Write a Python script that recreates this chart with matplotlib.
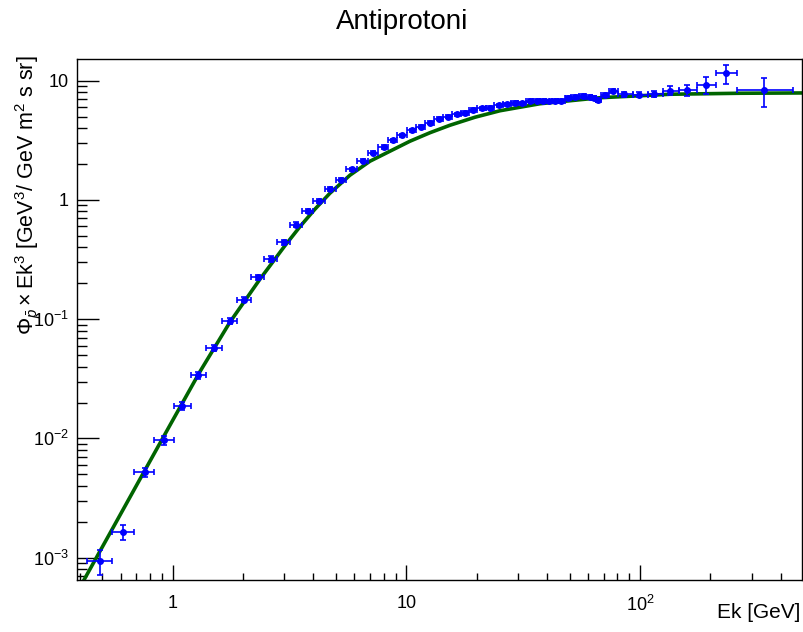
import numpy as np
import matplotlib
matplotlib.use("Agg")
import matplotlib.pyplot as plt

# antiproton flux x Ek^3 [GeV^3 / (GeV m^2 s sr)] per kinetic energy bin
ek = [0.489, 0.615, 0.759, 0.921, 1.096, 1.287, 1.506, 1.754, 2.018, 2.324,
      2.626, 2.994, 3.360, 3.79, 4.24, 4.73, 5.27, 5.85, 6.50, 7.22,
      8.00, 8.76, 9.58, 10.57, 11.58, 12.62, 13.79, 15.02, 16.41, 17.81,
      19.33, 21.0, 22.8, 24.8, 27.0, 29.1, 31.4, 33.7, 36.1, 38.4,
      40.8, 43.2, 45.9, 49.3, 52.7, 56.8, 61.0, 63.5, 66.2, 70.8,
      76.3, 85.6, 98.9, 114.7, 134.3, 159.2, 191.4, 233.2, 340.0]
flux = [9.4e-4, 1.64e-3, 5.19e-3, 9.68e-3, 0.01876, 0.0337, 0.0571, 0.0962, 0.146, 0.224,
        0.320, 0.442, 0.620, 0.804, 0.975, 1.229, 1.48, 1.80, 2.14, 2.48,
        2.78, 3.15, 3.49, 3.84, 4.12, 4.45, 4.81, 5.00, 5.23, 5.36,
        5.68, 5.87, 5.91, 6.22, 6.34, 6.50, 6.47, 6.81, 6.81, 6.79,
        6.72, 6.79, 6.79, 7.16, 7.26, 7.45, 7.30, 7.16, 6.94, 7.54,
        8.15, 7.69, 7.65, 7.80, 8.20, 8.36, 9.27, 11.53, 8.36]
# relative errors (down, up)
err_lo = [0.24, 0.15, 0.09, 0.085, 0.08, 0.065, 0.06, 0.06, 0.055, 0.05,
          0.05, 0.045, 0.045, 0.04, 0.04, 0.035, 0.035, 0.035, 0.03, 0.03,
          0.03, 0.03, 0.03, 0.03, 0.03, 0.03, 0.03, 0.03, 0.03, 0.03,
          0.03, 0.03, 0.03, 0.03, 0.03, 0.03, 0.03, 0.03, 0.03, 0.03,
          0.03, 0.03, 0.03, 0.035, 0.035, 0.035, 0.035, 0.04, 0.04, 0.04,
          0.04, 0.045, 0.05, 0.06, 0.08, 0.11, 0.17, 0.19, 0.28]
err_hi = [0.23, 0.15, 0.09, 0.085, 0.08, 0.065, 0.06, 0.06, 0.055, 0.05,
          0.05, 0.045, 0.045, 0.04, 0.04, 0.035, 0.035, 0.035, 0.03, 0.03,
          0.03, 0.03, 0.03, 0.03, 0.03, 0.03, 0.03, 0.03, 0.03, 0.03,
          0.03, 0.03, 0.03, 0.03, 0.03, 0.03, 0.03, 0.03, 0.03, 0.03,
          0.03, 0.03, 0.03, 0.035, 0.035, 0.035, 0.035, 0.04, 0.04, 0.04,
          0.04, 0.045, 0.05, 0.06, 0.095, 0.11, 0.16, 0.18, 0.27]
# bin edges in Ek [GeV]
edges = [0.430, 0.553, 0.685, 0.836, 1.013, 1.198, 1.388, 1.625, 1.884, 2.163,
         2.471, 2.795, 3.176, 3.575, 4.004, 4.485, 4.998, 5.543, 6.177, 6.850,
         7.596, 8.38, 9.16, 10.06, 11.05, 12.07, 13.19, 14.41, 15.67, 17.12,
         18.53, 20.15, 21.91, 23.82, 25.91, 28.03, 30.18, 32.49, 34.82, 37.30,
         39.58, 41.98, 44.55, 47.72, 50.87, 54.78, 58.69, 62.27, 64.77, 68.39,
         73.62, 80.5, 93.0, 108.0, 125.0, 147.0, 175.0, 211.0, 259.0, 450.0]

# model curve
curve_ek = [0.4174, 0.5393, 0.7245, 0.9738, 1.309, 1.759, 2.364, 3.024, 3.505,
            4.063, 4.711, 5.738, 6.989, 8.507, 10.36, 12.62, 15.37, 19.66,
            25.15, 37.30, 67.36, 134.3, 267.6, 493.0]
curve_val = [6.49e-4, 1.601e-3, 4.543e-3, 0.01288, 0.0363, 0.09438, 0.2164, 0.4131, 0.5961,
             0.8357, 1.138, 1.611, 2.111, 2.560, 3.105, 3.659, 4.228, 4.934,
             5.593, 6.404, 7.190, 7.691, 7.841, 7.885]

plt.rcParams['font.family'] = ['Liberation Sans', 'DejaVu Sans']
plt.rcParams['mathtext.fontset'] = 'custom'
plt.rcParams['mathtext.rm'] = 'Liberation Sans'
plt.rcParams['mathtext.it'] = 'Liberation Sans:italic'
plt.rcParams['mathtext.bf'] = 'Liberation Sans:bold'

x = np.array(ek)
y = np.array(flux)
e = np.array(edges)
xerr = [x - e[:-1], e[1:] - x]
yerr = [y * np.array(err_lo), y * np.array(err_hi)]

fig = plt.figure(figsize=(8.04, 6.32), dpi=100)
ax = fig.add_axes([0.0958, 0.0823, 0.9017, 0.8244])

ax.plot(curve_ek, curve_val, color='#006400', lw=2.6, zorder=2)
ax.errorbar(x, y, xerr=xerr, yerr=yerr, fmt='o', ms=4, color='#0000ff',
            ecolor='#0000ff', elinewidth=1.2, capsize=2.5, capthick=1.2, zorder=3)

ax.set_xscale('log')
ax.set_yscale('log')
ax.set_xlim(0.39, 493)
ax.set_ylim(6.5e-4, 15.2)

ax.set_xticks([1, 10, 100])
ax.set_xticklabels(['1', '10', r'$10^{2}$'])
ax.set_yticks([1e-3, 1e-2, 1e-1, 1, 10])
ax.set_yticklabels([r'$10^{-3}$', r'$10^{-2}$', r'$10^{-1}$', '1', '10'])

ax.tick_params(which='both', direction='in', top=False, right=False, labelsize=13)
ax.xaxis.set_tick_params(which='major', length=10.8, width=1, pad=11)
ax.xaxis.set_tick_params(which='minor', length=5.0, width=1)
ax.yaxis.set_tick_params(which='major', length=15.6, width=1, pad=6)
ax.yaxis.set_tick_params(which='minor', length=7.5, width=1)
for sp in ax.spines.values():
    sp.set_linewidth(1.0)

fig.text(0.5, 1 - 22 / 632, 'Antiprotoni', ha='center', va='center', fontsize=20)
fig.text(800 / 804, 1 - 612 / 632, 'Ek [GeV]', ha='right', va='center', fontsize=15)
fig.text(28 / 804, 1 - 55 / 632,
         r'$\Phi_{\bar{p}}\times$Ek$^{3}$ [GeV$^{3}$/ GeV m$^{2}$ s sr]',
         rotation=90, ha='center', va='top', fontsize=15.5)

fig.savefig('out.png', dpi=100)
